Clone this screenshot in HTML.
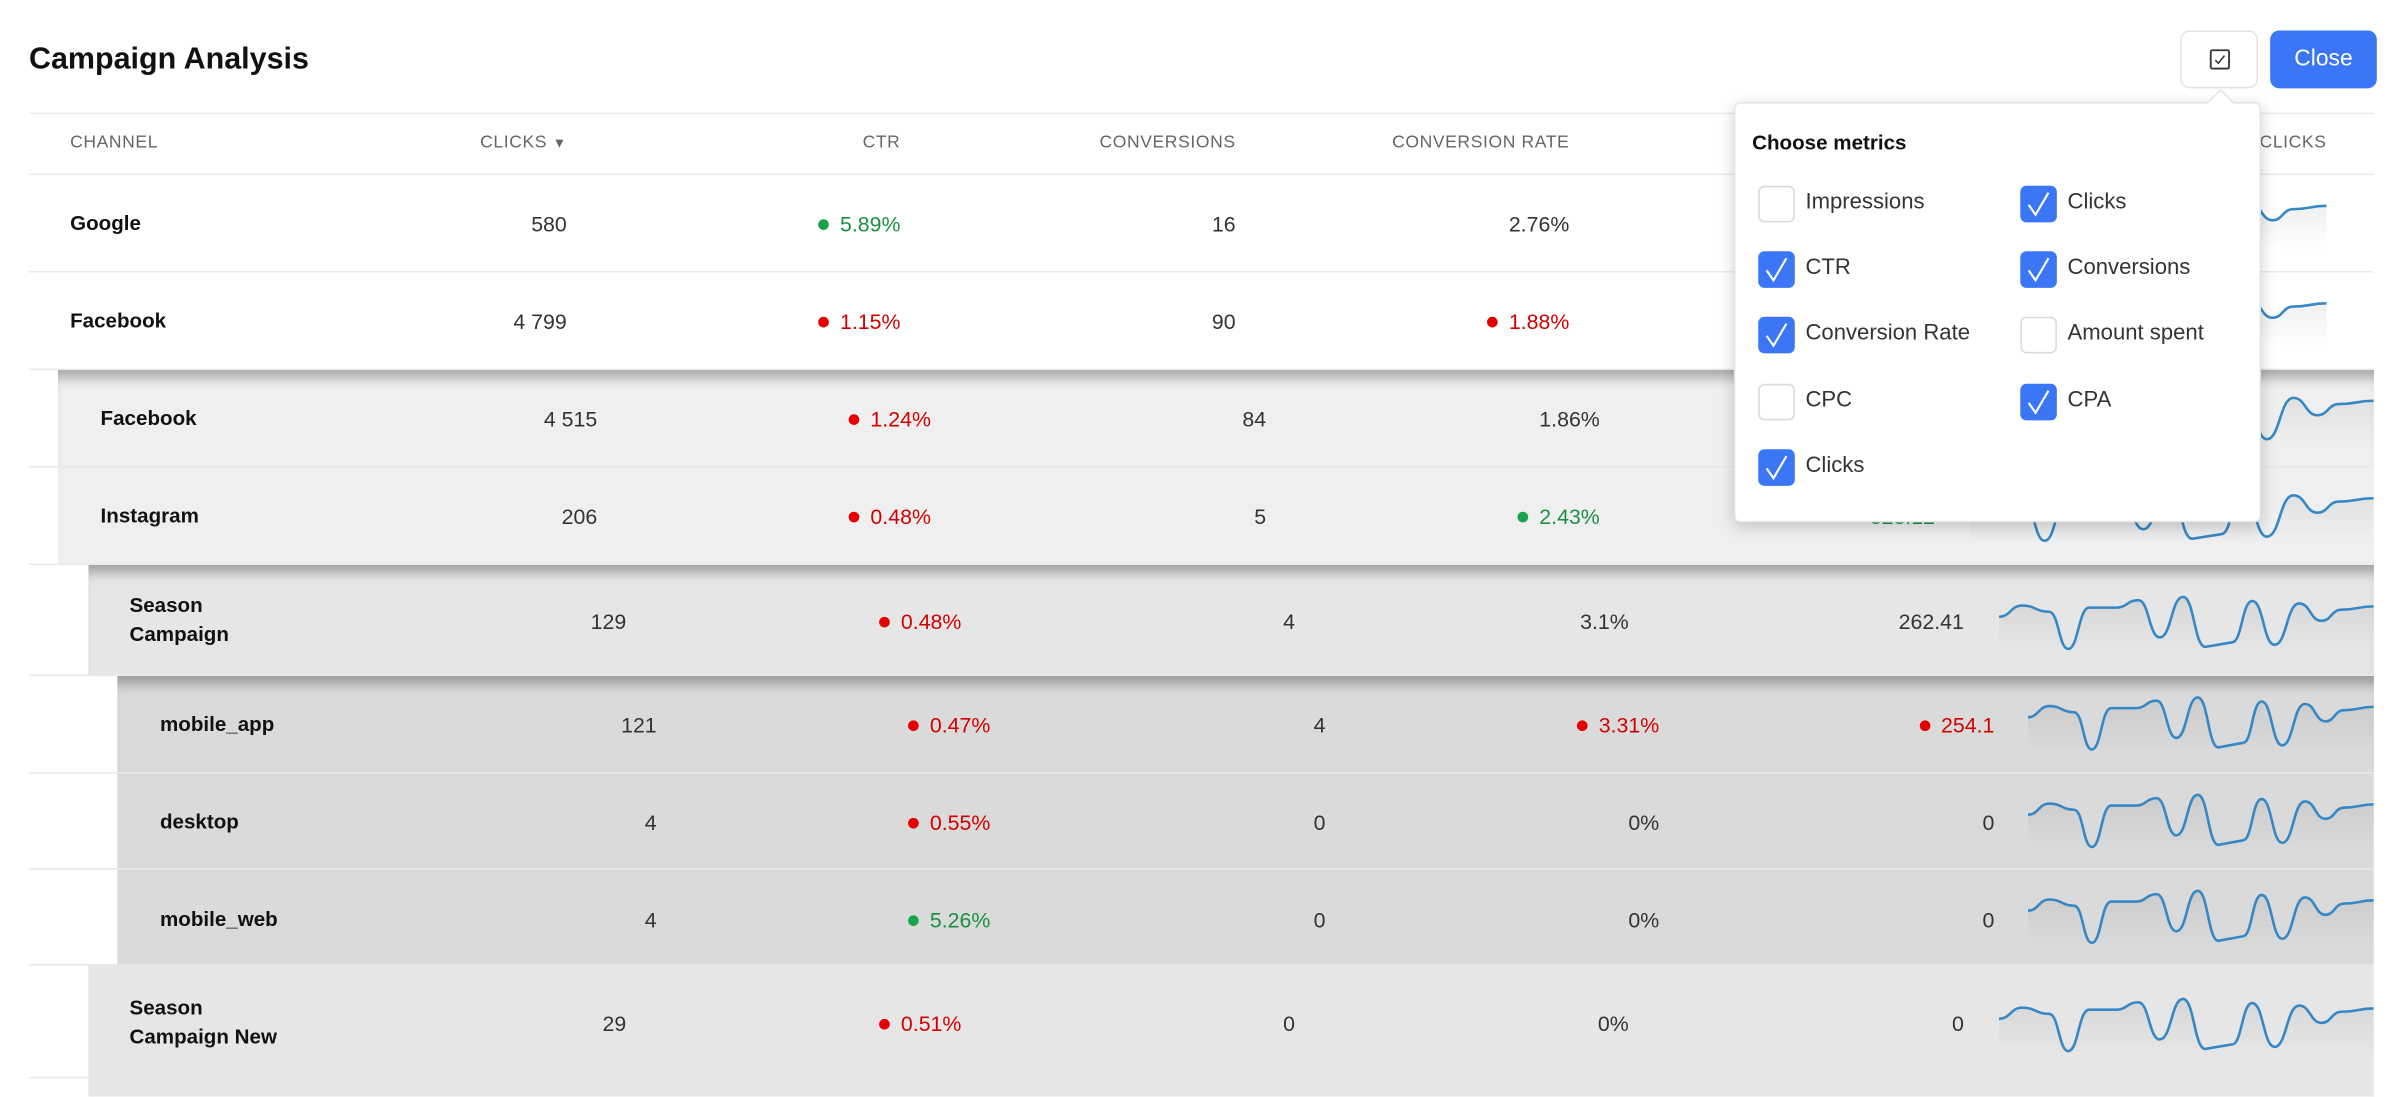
<!DOCTYPE html>
<html><head><meta charset="utf-8">
<style>
html,body{margin:0;padding:0;width:2389px;height:1092px;overflow:hidden;background:#fff}
.c{position:absolute;left:0;top:0;width:1568px;height:717px;transform:scale(1.5236,1.523);transform-origin:0 0;font-family:"Liberation Sans",sans-serif;color:#333}
.a{position:absolute;white-space:nowrap}
.t{font-size:20px;font-weight:bold;color:#111;left:19px;top:28px}
.h{font-size:11.5px;color:#666;letter-spacing:0.4px;top:88px}
.row{position:absolute;border-bottom:1px solid #e8e8e8;right:10px}
.n{font-size:13.5px;font-weight:bold;color:#111;line-height:19px}
.v{font-size:14px;color:#333;line-height:18px}
.r{color:#d40000}.g{color:#1a9140}
.d{display:inline-block;width:7px;height:7px;border-radius:50%;margin-right:7px;vertical-align:1px}
.r .d{background:#e50000}.g .d{background:#17a34a}
.sh{box-shadow:inset 0 10px 8px -5px rgba(0,0,0,.3)}
svg.sp{position:absolute}
.pop{position:absolute;left:1138px;top:67px;width:344px;height:274px;background:#fff;border:1px solid #e4e4e4;border-radius:4px;box-shadow:0 3px 10px rgba(0,0,0,.18)}
.cb{position:absolute;width:22px;height:22px;border:1px solid #d9d9d9;border-radius:4px;background:#fff}
.cb.k{background:#3b76f6;border-color:#3b76f6}
.lb{position:absolute;font-size:14.5px;color:#333}
</style></head><body>
<svg width="0" height="0" style="position:absolute">
<defs>
<linearGradient id="gf" x1="0" y1="0" x2="0" y2="1"><stop offset="0" stop-color="#000" stop-opacity="0.07"/><stop offset="1" stop-color="#000" stop-opacity="0"/></linearGradient>
<symbol id="s" viewBox="0 -5 839 140" preserveAspectRatio="none">
<path d="M0 50 C26 50 26 23 52 23 C82 23 82 38 112 38 C134 38 134 128 155 128 C178 128 178 28 202 28 L262 28 C287 28 287 10 312 10 C336 10 336 100 360 100 C386 100 386 2 412 2 C437 2 437 123 462 123 L522 112 C544 112 544 12 567 12 C592 12 592 118 617 118 C644 118 644 18 672 18 C697 18 697 60 722 60 C744 60 744 33 767 33 C803 33 803 25 839 25 L839 135 L0 135 Z" fill="url(#gf)"/>
<path d="M0 50 C26 50 26 23 52 23 C82 23 82 38 112 38 C134 38 134 128 155 128 C178 128 178 28 202 28 L262 28 C287 28 287 10 312 10 C336 10 336 100 360 100 C386 100 386 2 412 2 C437 2 437 123 462 123 L522 112 C544 112 544 12 567 12 C592 12 592 118 617 118 C644 118 644 18 672 18 C697 18 697 60 722 60 C744 60 744 33 767 33 C803 33 803 25 839 25" fill="none" stroke="#3587c6" stroke-width="1.7" vector-effect="non-scaling-stroke"/>
</symbol>
<symbol id="ck" viewBox="0 0 22 22"><path d="M4.5 11.5 L9 18 L17.5 3.5" fill="none" stroke="#fff" stroke-width="1.4"/></symbol>
</defs></svg>
<div class="c">
<div class="a t">Campaign Analysis</div>
<div class="a" style="left:1431px;top:20px;width:49px;height:36px;border:1px solid #e3e3e3;border-radius:6px;background:#fff">
 <svg style="position:absolute;left:18px;top:11px" width="14" height="14" viewBox="0 0 14 14"><rect x="1" y="1" width="12" height="12" fill="none" stroke="#333" stroke-width="1.2" rx="1"/><path d="M4 7.5 L6 9.5 L10 4.5" fill="none" stroke="#333" stroke-width="1"/></svg>
</div>
<div class="a" style="left:1490px;top:20px;width:70px;height:38px;background:#3b76f6;border-radius:6px;color:#fff;font-size:15px;line-height:38px;text-align:center">Close</div>

<div class="a" style="left:19px;top:74px;width:1539px;height:1px;background:#eaeaea"></div>
<div class="a h" style="left:46px">CHANNEL</div>
<div class="a h" style="right:1196px">CLICKS <span style="font-size:9px">▼</span></div>
<div class="a h" style="right:977px">CTR</div>
<div class="a h" style="right:757px">CONVERSIONS</div>
<div class="a h" style="right:538px">CONVERSION RATE</div>
<div class="a h" style="right:41px">CLICKS</div>
<div class="a" style="left:19px;top:114px;width:1539px;height:1px;background:#eaeaea"></div>

<!-- Google -->
<div class="row" style="left:19px;top:115px;height:63px;background:#fff"></div>
<div class="a n" style="left:46px;top:137px">Google</div>
<div class="a v" style="right:1196px;top:138px">580</div>
<div class="a v g" style="right:977px;top:138px"><span class="d"></span>5.89%</div>
<div class="a v" style="right:757px;top:138px">16</div>
<div class="a v" style="right:538px;top:138px">2.76%</div>
<div class="a v" style="right:318px;top:138px">18.77</div>
<svg class="sp" style="left:1273px;top:127px" width="254" height="38"><use href="#s"/></svg>

<!-- Facebook -->
<div class="row" style="left:19px;top:179px;height:63px;background:#fff"></div>
<div class="a n" style="left:46px;top:201px">Facebook</div>
<div class="a v" style="right:1196px;top:202px">4 799</div>
<div class="a v r" style="right:977px;top:202px"><span class="d"></span>1.15%</div>
<div class="a v" style="right:757px;top:202px">90</div>
<div class="a v r" style="right:538px;top:202px"><span class="d"></span>1.88%</div>
<div class="a v" style="right:318px;top:202px">311.40</div>
<svg class="sp" style="left:1273px;top:191px" width="254" height="38"><use href="#s"/></svg>

<!-- Level1 -->
<div class="row sh" style="left:38px;top:243px;height:63px;background:#efefef"></div>
<div class="a" style="left:19px;top:306px;width:19px;height:1px;background:#e8e8e8"></div>
<div class="a n" style="left:66px;top:265px">Facebook</div>
<div class="a v" style="right:1176px;top:266px">4 515</div>
<div class="a v r" style="right:957px;top:266px"><span class="d"></span>1.24%</div>
<div class="a v" style="right:737px;top:266px">84</div>
<div class="a v" style="right:518px;top:266px">1.86%</div>
<div class="a v" style="right:298px;top:266px">309.22</div>
<svg class="sp" style="left:1293px;top:255px" width="265" height="38"><use href="#s"/></svg>

<div class="row" style="left:38px;top:307px;height:63px;background:#efefef"></div>
<div class="a" style="left:19px;top:370px;width:19px;height:1px;background:#e8e8e8"></div>
<div class="a n" style="left:66px;top:329px">Instagram</div>
<div class="a v" style="right:1176px;top:330px">206</div>
<div class="a v r" style="right:957px;top:330px"><span class="d"></span>0.48%</div>
<div class="a v" style="right:737px;top:330px">5</div>
<div class="a v g" style="right:518px;top:330px"><span class="d"></span>2.43%</div>
<div class="a v g" style="right:298px;top:330px"><span class="d"></span>328.12</div>
<svg class="sp" style="left:1293px;top:319px" width="265" height="38"><use href="#s"/></svg>

<!-- Level2 Season Campaign -->
<div class="row sh" style="left:58px;top:371px;height:72px;background:#e6e6e6"></div>
<div class="a n" style="left:85px;top:388px">Season<br>Campaign</div>
<div class="a v" style="right:1157px;top:399px">129</div>
<div class="a v r" style="right:937px;top:399px"><span class="d"></span>0.48%</div>
<div class="a v" style="right:718px;top:399px">4</div>
<div class="a v" style="right:499px;top:399px">3.1%</div>
<div class="a v" style="right:279px;top:399px">262.41</div>
<svg class="sp" style="left:1312px;top:390px" width="246" height="38"><use href="#s"/></svg>

<!-- Level3 -->
<div class="row sh" style="left:77px;top:444px;height:63px;background:#dadada"></div>
<div class="a n" style="left:105px;top:466px">mobile_app</div>
<div class="a v" style="right:1137px;top:467px">121</div>
<div class="a v r" style="right:918px;top:467px"><span class="d"></span>0.47%</div>
<div class="a v" style="right:698px;top:467px">4</div>
<div class="a v r" style="right:479px;top:467px"><span class="d"></span>3.31%</div>
<div class="a v r" style="right:259px;top:467px"><span class="d"></span>254.1</div>
<svg class="sp" style="left:1331px;top:456px" width="227" height="38"><use href="#s"/></svg>

<div class="row" style="left:77px;top:508px;height:62px;background:#dadada"></div>
<div class="a n" style="left:105px;top:530px">desktop</div>
<div class="a v" style="right:1137px;top:531px">4</div>
<div class="a v r" style="right:918px;top:531px"><span class="d"></span>0.55%</div>
<div class="a v" style="right:698px;top:531px">0</div>
<div class="a v" style="right:479px;top:531px">0%</div>
<div class="a v" style="right:259px;top:531px">0</div>
<svg class="sp" style="left:1331px;top:520px" width="227" height="38"><use href="#s"/></svg>

<div class="row" style="left:77px;top:571px;height:62px;background:#dadada"></div>
<div class="a n" style="left:105px;top:594px">mobile_web</div>
<div class="a v" style="right:1137px;top:595px">4</div>
<div class="a v g" style="right:918px;top:595px"><span class="d"></span>5.26%</div>
<div class="a v" style="right:698px;top:595px">0</div>
<div class="a v" style="right:479px;top:595px">0%</div>
<div class="a v" style="right:259px;top:595px">0</div>
<svg class="sp" style="left:1331px;top:583px" width="227" height="38"><use href="#s"/></svg>

<!-- Level2 Season Campaign New -->
<div class="row" style="left:58px;top:634px;height:73px;background:#e6e6e6"></div>
<div class="a n" style="left:85px;top:652px">Season<br>Campaign New</div>
<div class="a v" style="right:1157px;top:663px">29</div>
<div class="a v r" style="right:937px;top:663px"><span class="d"></span>0.51%</div>
<div class="a v" style="right:718px;top:663px">0</div>
<div class="a v" style="right:499px;top:663px">0%</div>
<div class="a v" style="right:279px;top:663px">0</div>
<svg class="sp" style="left:1312px;top:654px" width="246" height="38"><use href="#s"/></svg>
<div class="a" style="left:58px;top:708px;width:1500px;height:12px;background:#e6e6e6"></div>
<div class="a" style="left:19px;top:443px;width:39px;height:1px;background:#e8e8e8"></div>
<div class="a" style="left:19px;top:507px;width:58px;height:1px;background:#e8e8e8"></div>
<div class="a" style="left:19px;top:570px;width:58px;height:1px;background:#e8e8e8"></div>
<div class="a" style="left:19px;top:633px;width:58px;height:1px;background:#e8e8e8"></div>
<div class="a" style="left:19px;top:707px;width:39px;height:1px;background:#e8e8e8"></div>

<!-- popup -->
<div class="pop">
 <div class="a" style="left:312px;top:-7px;width:12px;height:12px;background:#fff;border-left:1px solid #e4e4e4;border-top:1px solid #e4e4e4;transform:rotate(45deg)"></div>
 <div class="a" style="left:11px;top:18px;font-size:13.5px;font-weight:bold;color:#111">Choose metrics</div>
 <div class="cb" style="left:15px;top:54px"></div><div class="lb" style="left:46px;top:57px">Impressions</div>
 <div class="cb k" style="left:187px;top:54px"><svg width="22" height="22"><use href="#ck"/></svg></div><div class="lb" style="left:218px;top:57px">Clicks</div>
 <div class="cb k" style="left:15px;top:97px"><svg width="22" height="22"><use href="#ck"/></svg></div><div class="lb" style="left:46px;top:100px">CTR</div>
 <div class="cb k" style="left:187px;top:97px"><svg width="22" height="22"><use href="#ck"/></svg></div><div class="lb" style="left:218px;top:100px">Conversions</div>
 <div class="cb k" style="left:15px;top:140px"><svg width="22" height="22"><use href="#ck"/></svg></div><div class="lb" style="left:46px;top:143px">Conversion Rate</div>
 <div class="cb" style="left:187px;top:140px"></div><div class="lb" style="left:218px;top:143px">Amount spent</div>
 <div class="cb" style="left:15px;top:184px"></div><div class="lb" style="left:46px;top:187px">CPC</div>
 <div class="cb k" style="left:187px;top:184px"><svg width="22" height="22"><use href="#ck"/></svg></div><div class="lb" style="left:218px;top:187px">CPA</div>
 <div class="cb k" style="left:15px;top:227px"><svg width="22" height="22"><use href="#ck"/></svg></div><div class="lb" style="left:46px;top:230px">Clicks</div>
</div>
</div>
</body></html>
